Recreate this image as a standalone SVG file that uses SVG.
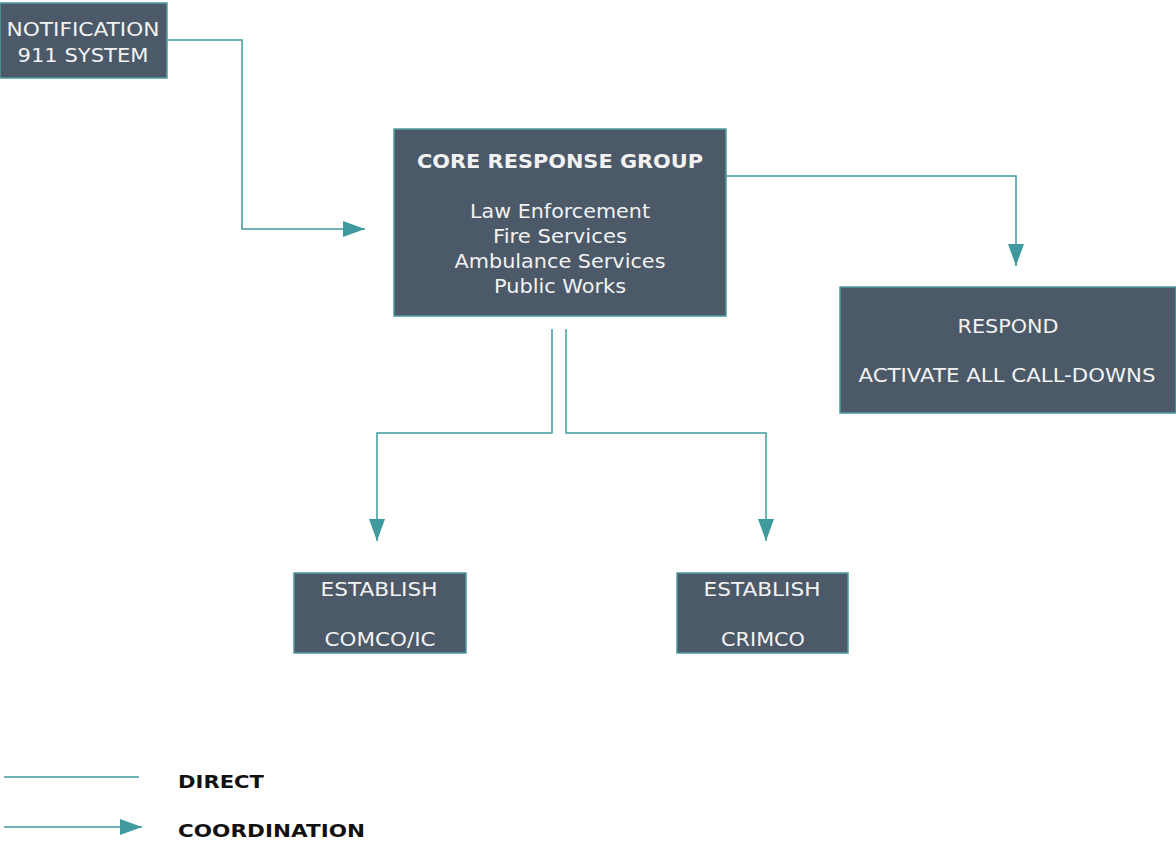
<svg xmlns="http://www.w3.org/2000/svg" width="1176" height="843" viewBox="0 0 1176 843">
<defs>
<style>
.box{fill:#4b5968;stroke:#4f9ba0;stroke-width:1.5}
.t{font-family:"DejaVu Sans",Verdana,sans-serif;font-size:19px;fill:#f2f2f2;text-anchor:middle}
.b{font-weight:bold}
.c{fill:none;stroke:#3f9a9e;stroke-width:1.5}
.lg{font-family:"DejaVu Sans",Verdana,sans-serif;font-size:18px;font-weight:bold;fill:#111}
</style>
<marker id="ahd" viewBox="0 0 22 16" refX="22" refY="8" markerWidth="22" markerHeight="16" markerUnits="userSpaceOnUse" orient="auto">
<path d="M0,0 L22,8 L0,16 Z" fill="#3f9a9e"/>
</marker>
</defs>
<rect width="1176" height="843" fill="#ffffff"/>
<g id="connectors">
<path class="c" d="M167,40 H242 V229 H365" marker-end="url(#ahd)"/>
<path class="c" d="M726,176 H1016 V266" marker-end="url(#ahd)"/>
<path class="c" d="M552,329 V433 H377 V541" marker-end="url(#ahd)"/>
<path class="c" d="M566,329 V433 H766 V541" marker-end="url(#ahd)"/>
</g>
<g id="notification">
<rect class="box" x="0" y="3" width="167" height="75"/>
<text class="t" x="83" y="36" textLength="153" lengthAdjust="spacingAndGlyphs">NOTIFICATION</text>
<text class="t" x="83" y="62" textLength="131" lengthAdjust="spacingAndGlyphs">911 SYSTEM</text>
</g>
<g id="core">
<rect class="box" x="394" y="129" width="332" height="187"/>
<text class="t b" x="560" y="168" textLength="286" lengthAdjust="spacingAndGlyphs">CORE RESPONSE GROUP</text>
<text class="t" x="560" y="218" textLength="180" lengthAdjust="spacingAndGlyphs">Law Enforcement</text>
<text class="t" x="560" y="243" textLength="134" lengthAdjust="spacingAndGlyphs">Fire Services</text>
<text class="t" x="560" y="268" textLength="211" lengthAdjust="spacingAndGlyphs">Ambulance Services</text>
<text class="t" x="560" y="293" textLength="132" lengthAdjust="spacingAndGlyphs">Public Works</text>
</g>
<g id="respond">
<rect class="box" x="840" y="287" width="336" height="126"/>
<text class="t" x="1008" y="333" textLength="101" lengthAdjust="spacingAndGlyphs">RESPOND</text>
<text class="t" x="1007" y="382" textLength="297" lengthAdjust="spacingAndGlyphs">ACTIVATE ALL CALL-DOWNS</text>
</g>
<g id="comco">
<rect class="box" x="294" y="573" width="172" height="80"/>
<text class="t" x="379" y="596" textLength="117" lengthAdjust="spacingAndGlyphs">ESTABLISH</text>
<text class="t" x="380" y="646" textLength="111" lengthAdjust="spacingAndGlyphs">COMCO/IC</text>
</g>
<g id="crimco">
<rect class="box" x="677" y="573" width="171" height="80"/>
<text class="t" x="762" y="596" textLength="117" lengthAdjust="spacingAndGlyphs">ESTABLISH</text>
<text class="t" x="763" y="646" textLength="84" lengthAdjust="spacingAndGlyphs">CRIMCO</text>
</g>
<g id="legend">
<line class="c" x1="4" y1="777" x2="139" y2="777"/>
<line class="c" x1="4" y1="827" x2="142" y2="827" marker-end="url(#ahd)"/>
<text class="lg" x="178" y="788" textLength="86" lengthAdjust="spacingAndGlyphs">DIRECT</text>
<text class="lg" x="178" y="837" textLength="187" lengthAdjust="spacingAndGlyphs">COORDINATION</text>
</g>
</svg>
